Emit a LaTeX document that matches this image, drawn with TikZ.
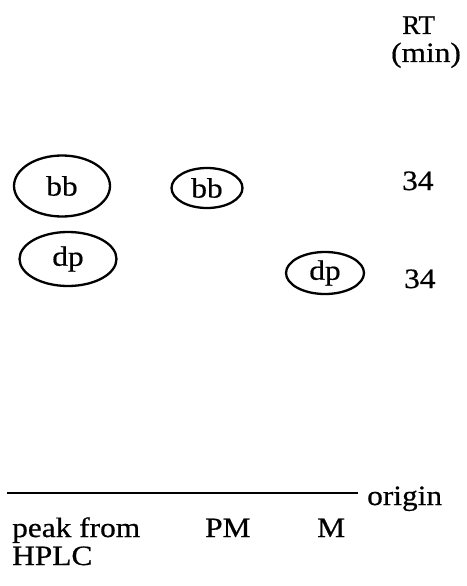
\documentclass[tikz,border=0pt]{standalone}
\usepackage{fontspec}
\setmainfont{Liberation Serif}[FakeStretch=1.12,FakeBold=0.6]
\newfontfamily\plainserif{Liberation Serif}[FakeBold=0.6]
\usetikzlibrary{shapes.geometric}
\begin{document}
\begin{tikzpicture}[x=1pt,y=-1pt,
  every node/.style={font=\fontsize{28}{32}\selectfont, inner sep=0pt},
  spot/.style={draw, ellipse, line width=2.3pt, inner sep=0pt},
  txt/.style={anchor=base west}]
\useasboundingbox (0,0) rectangle (466,586);
% spots
\node[spot, minimum width=96pt, minimum height=61pt] (bb1) at (62,186) {bb};
\node[spot, minimum width=71pt, minimum height=40pt] (bb2) at (207,188) {bb};
\node[spot, minimum width=97pt, minimum height=54pt] (dp1) at (68,259) {dp};
\node[spot, minimum width=78pt, minimum height=42pt] (dp2) at (325,273) {dp};
% RT column
\node[txt, font=\plainserif\fontsize{27}{30}\selectfont] (rt) at (402,34) {RT};
\node[txt] (min) at (391,62) {(min)};
\node[txt] (rt1) at (402,190) {34};
\node[txt] (rt2) at (404,288) {34};
% origin line
\coordinate (l0) at (7,493);
\coordinate (l1) at (358,493);
\draw[line width=2.4pt] (l0) -- (l1);
\node[txt] (orig) at (367,505) {origin};
% lanes
\node[txt] (peak) at (12,537) {peak from};
\node[txt] (hplc) at (12,565) {HPLC};
\node[txt] (pm) at (205,537) {PM};
\node[txt] (m) at (317,537) {M};
\end{tikzpicture}
\end{document}
